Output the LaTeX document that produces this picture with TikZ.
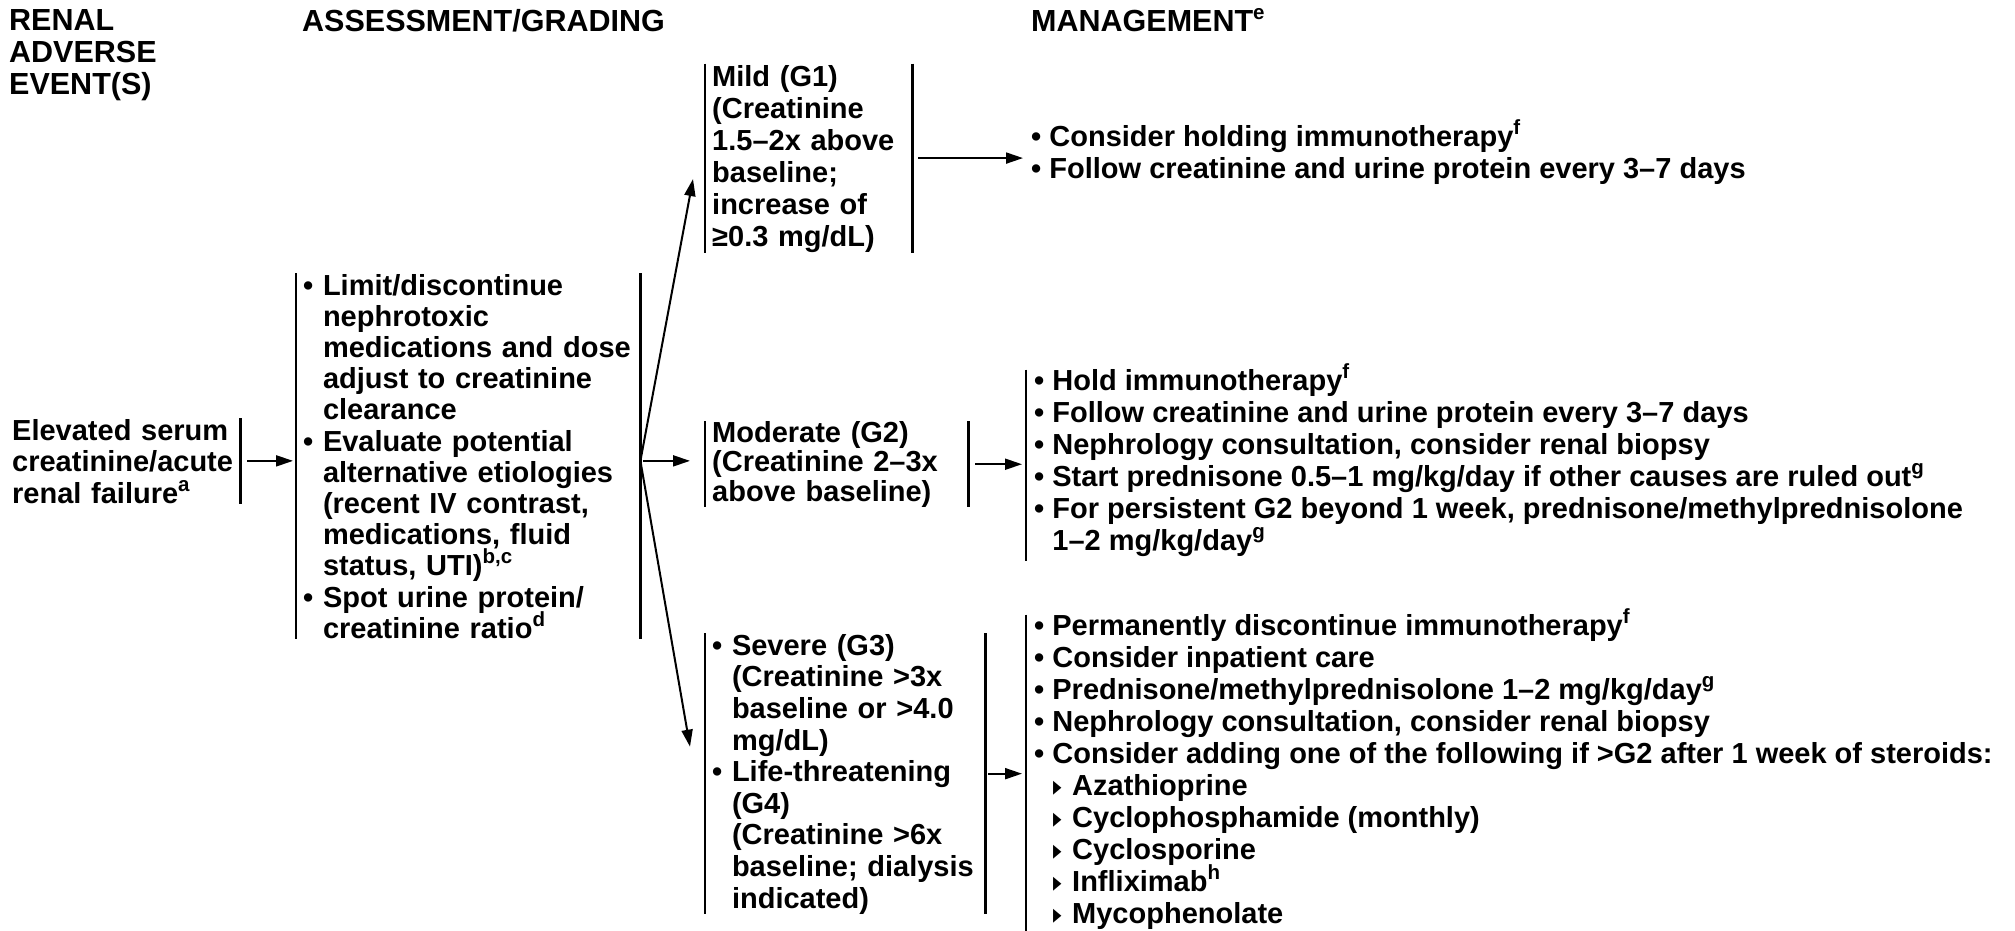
\documentclass[tikz,border=0pt]{standalone}
\usepackage{fontspec}
\usepackage{graphicx}
\setmainfont{Liberation Sans}
\newfontfamily\symfont{DejaVu Sans}
\usetikzlibrary{positioning}
\usetikzlibrary{calc}
\usetikzlibrary{arrows.meta}
\newcommand{\txtsize}[1]{\fontsize{29}{#1}\bfseries\selectfont\lineskiplimit=-40pt\relax}
\newcommand{\headsize}{\fontsize{30.5}{32}\bfseries\selectfont\lineskiplimit=-40pt\relax}
\newcommand{\firstline}{\noindent\strut}
\newcommand{\fnote}[1]{\smash{\raisebox{0.41em}{\fontsize{20.5}{20.5}\selectfont #1}}}
\newcommand{\hangin}{\hphantom{• }}
\newcommand{\subbul}{\hspace*{19pt}\makebox[19pt][l]{\scalebox{0.6}[1]{\symfont\fontsize{28}{28}\selectfont ▸}}}
\tikzset{
    header/.style = {anchor=north west, inner sep=0pt, align=left,
        font=\headsize, execute at begin node=\firstline},
    grade/.style = {anchor=north west, inner xsep=7pt, inner ysep=0pt, align=left,
        execute at begin node=\firstline},
    manage/.style = {anchor=north west, inner xsep=8pt, inner ysep=0pt, align=left,
        font=\txtsize{32}, execute at begin node=\firstline},
    bar/.style = {line width=2.6pt},
    flow/.style = {line width=2pt, -{Triangle[length=17pt,width=11pt]}}}

\begin{document}
\begin{tikzpicture}[x=1pt,y=-1pt]
    \useasboundingbox (0,0) rectangle (2015,931);
    % column headings
    \node[header] (hevent) at (9,9) {RENAL\\ADVERSE\\EVENT(S)};
    \node[header] (hgrade) at (302,9) {ASSESSMENT/GRADING};
    \node[header] (hmanage) at (1031,9) {MANAGEMENT\fnote{e}};
    % event and workup
    \node[grade, text width=221pt, font=\txtsize{31.5}] (event) at (5,418)
        {Elevated serum\\creatinine/acute\\renal failure\fnote{a}};
    \node[grade, text width=330pt, font=\txtsize{31.2}] (assess) at (296,273)
        {• Limit/discontinue\\\hangin nephrotoxic\\\hangin medications and dose\\
         \hangin adjust to creatinine\\\hangin clearance\\
         • Evaluate potential\\\hangin alternative etiologies\\\hangin (recent IV contrast,\\
         \hangin medications, fluid\\\hangin status, UTI)\fnote{b,c}\\
         • Spot urine protein/\\\hangin creatinine ratio\fnote{d}};
    % grades
    \node[grade, text width=193pt, font=\txtsize{32}] (mild) at (705,63.6)
        {Mild (G1)\\(Creatinine\\1.5–2x above\\baseline;\\increase of\\≥0.3 mg/dL)};
    \node[grade, text width=249pt, font=\txtsize{29.5}] (moderate) at (705,421)
        {Moderate (G2)\\(Creatinine 2–3x\\above baseline)};
    \node[grade, text width=266pt, font=\txtsize{31.6}] (severe) at (705,633)
        {• Severe (G3)\\\hangin (Creatinine >3x\\\hangin baseline or >4.0\\\hangin mg/dL)\\
         • Life-threatening\\\hangin (G4)\\\hangin (Creatinine >6x\\
         \hangin baseline; dialysis\\\hangin indicated)};
    % management
    \node[manage] (mildmg) at (1023,125.6)
        {• Consider holding immunotherapy\fnote{f}\\
         • Follow creatinine and urine protein every 3–7 days};
    \node[manage] (moderatemg) at (1026,369.6)
        {• Hold immunotherapy\fnote{f}\\
         • Follow creatinine and urine protein every 3–7 days\\
         • Nephrology consultation, consider renal biopsy\\
         • Start prednisone 0.5–1 mg/kg/day if other causes are ruled out\fnote{g}\\
         • For persistent G2 beyond 1 week, prednisone/methylprednisolone\\
         \hangin 1–2 mg/kg/day\fnote{g}};
    \node[manage] (severemg) at (1026,614.6)
        {• Permanently discontinue immunotherapy\fnote{f}\\
         • Consider inpatient care\\
         • Prednisone/methylprednisolone 1–2 mg/kg/day\fnote{g}\\
         • Nephrology consultation, consider renal biopsy\\
         • Consider adding one of the following if >G2 after 1 week of steroids:\\
         \subbul Azathioprine\\
         \subbul Cyclophosphamide (monthly)\\
         \subbul Cyclosporine\\
         \subbul Infliximab\fnote{h}\\
         \subbul Mycophenolate};
    % side rules
    \foreach \b in {assess,mild,moderate,severe}
        \draw[bar] (\b.north west) -- (\b.south west) (\b.north east) -- (\b.south east);
    \draw[bar] (event.north east) -- (event.south east);
    \foreach \b in {moderatemg,severemg}
        \draw[bar] (\b.north west) -- (\b.south west);
    % arrows
    \draw[flow, shorten <=7pt, shorten >=3pt] (event.east) -- (event.east -| assess.west);
    \coordinate (fan) at (assess.east |- event.east);
    \draw[flow] (fan) -- ($(mild.west)+(-12,21)$);
    \draw[flow, shorten <=3pt, shorten >=15pt] (fan) -- (fan -| moderate.west);
    \draw[flow] (fan) -- ($(severe.west)+(-15,-27)$);
    \draw[flow, shorten <=6pt] (mild.east) -- (mild.east -| mildmg.west);
    \draw[flow, shorten <=7pt, shorten >=4pt] (moderate.east) -- (moderate.east -| moderatemg.west);
    \draw[flow, shorten <=3pt, shorten >=4pt] (severe.east) -- (severe.east -| severemg.west);
\end{tikzpicture}
\end{document}
